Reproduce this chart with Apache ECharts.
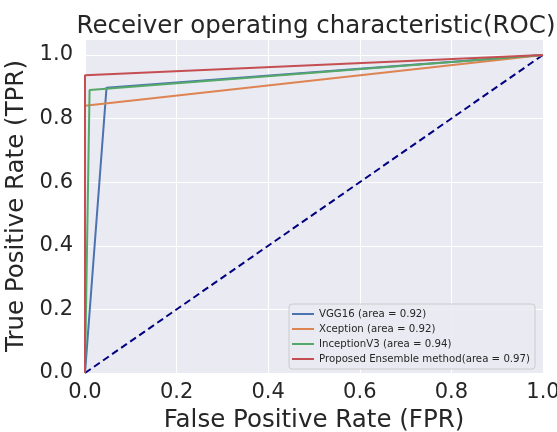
<!DOCTYPE html>
<html><head><meta charset="utf-8">
<script src="https://cdn.jsdelivr.net/npm/echarts@6/dist/echarts.min.js"></script>
<style>html,body{margin:0;padding:0;background:#fff}#c{width:557px;height:432px}</style>
</head><body><div id="c"></div>
<script>
const seriesNames = ['VGG16 (area = 0.92)', 'Xception (area = 0.92)', 'InceptionV3 (area = 0.94)', 'Proposed Ensemble method(area = 0.97)'];
const vggFpr = [0, 0.047, 1];
const vggTpr = [0, 0.897, 1];
const xcepFpr = [0, 0, 1];
const xcepTpr = [0, 0.84, 1];
const incFpr = [0, 0.01, 1];
const incTpr = [0, 0.89, 1];
const ensFpr = [0, 0, 1];
const ensTpr = [0, 0.936, 1];
const chanceFpr = [0, 1];
const chanceTpr = [0, 1];
const colors = ['#4c72b0', '#dd8452', '#55a868', '#c44e52'];

const zip = (a, b) => a.map((v, i) => [v, b[i]]);
const font = 'DejaVu Sans';
const chart = echarts.init(document.getElementById('c'));
const mk = (name, fpr, tpr, color) => ({
  name, type: 'line', data: zip(fpr, tpr), showSymbol: false, symbol: 'none',
  lineStyle: { color, width: 2 }, itemStyle: { color }, animation: false, z: 3
});
chart.setOption({
  animation: false,
  backgroundColor: '#ffffff',
  title: {
    text: 'Receiver operating characteristic(ROC)', left: 311, top: 9, textAlign: 'center',
    textStyle: { fontFamily: font, fontSize: 24.5, fontWeight: 'normal', color: '#262626' }
  },
  grid: { left: 85, right: 14, top: 39, bottom: 59, show: true, backgroundColor: '#eaeaf2', borderWidth: 0,
    containLabel: false, outerBoundsMode: 'none' },
  xAxis: {
    type: 'value', min: 0, max: 1, interval: 0.2,
    name: 'False Positive Rate (FPR)', nameLocation: 'middle', nameGap: 28,
    nameTextStyle: { fontFamily: font, fontSize: 24.5, color: '#262626' },
    axisLine: { show: false }, axisTick: { show: false },
    axisLabel: { fontFamily: font, fontSize: 21, color: '#262626', margin: 9, formatter: v => v.toFixed(1) },
    splitLine: { show: true, lineStyle: { color: '#ffffff', width: 1 } }
  },
  yAxis: {
    type: 'value', min: 0, max: 1.05, interval: 0.2,
    name: 'True Positive Rate (TPR)', nameLocation: 'middle', nameGap: 53,
    nameTextStyle: { fontFamily: font, fontSize: 24.5, color: '#262626' },
    axisLine: { show: false }, axisTick: { show: false },
    axisLabel: { fontFamily: font, fontSize: 21, color: '#262626', margin: 12,
      formatter: v => (Math.abs(Math.round(v * 5) - v * 5) < 1e-6 ? v.toFixed(1) : '') },
    splitLine: { show: true, lineStyle: { color: '#ffffff', width: 1 } }
  },
  legend: {
    data: seriesNames, orient: 'vertical', left: 289, top: 304,
    itemWidth: 22, itemHeight: 2, itemGap: 5, icon: 'rect',
    padding: [5, 5, 5, 3],
    backgroundColor: 'rgba(234,234,242,0.85)', borderColor: '#cccccc', borderWidth: 1, borderRadius: 3,
    textStyle: { fontFamily: font, fontSize: 10.2, color: '#262626' }
  },
  series: [
    mk(seriesNames[0], vggFpr, vggTpr, colors[0]),
    mk(seriesNames[1], xcepFpr, xcepTpr, colors[1]),
    mk(seriesNames[2], incFpr, incTpr, colors[2]),
    mk(seriesNames[3], ensFpr, ensTpr, colors[3]),
    { type: 'line', data: zip(chanceFpr, chanceTpr), showSymbol: false, symbol: 'none',
      lineStyle: { color: '#000080', width: 2, type: [7, 4] }, animation: false, z: 2 }
  ]
});
</script></body></html>
